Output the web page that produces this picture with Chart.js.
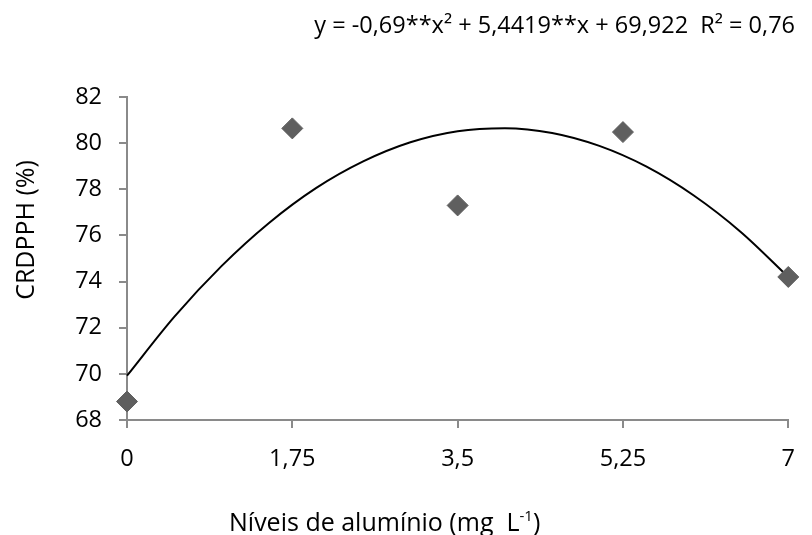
<!DOCTYPE html>
<html>
<head>
<meta charset="utf-8">
<script src="https://cdn.jsdelivr.net/npm/chart.js@4/dist/chart.umd.min.js"></script>
<style>
  body { margin: 0; background: #fff; }
  #wrap { width: 812px; height: 535px; }
</style>
</head>
<body>
<div id="wrap"><canvas id="chart" width="812" height="535"></canvas></div>
<script>
// aluminium levels and measured values
var levels = [0, 1.75, 3.5, 5.25, 7];
var crdpph = [68.8, 80.64, 77.3, 80.48, 74.2];

// fitted curve
var curveX = [0, 0.5, 1, 1.5, 2, 2.5, 3, 3.5, 4, 4.5, 5, 5.5, 6, 6.5, 7];
var curveY = [69.92, 72.47, 74.67, 76.53, 78.05, 79.21, 80.04, 80.52, 80.65, 80.44, 79.88, 78.98, 77.73, 76.14, 74.2];

var xTicks = [0, 1.75, 3.5, 5.25, 7];
var xTickLabels = ["0", "1,75", "3,5", "5,25", "7"];

var equation = "y = -0,69**x\u00b2 + 5,4419**x + 69,922  R\u00b2 = 0,76";
var yTitle = "CRDPPH (%)";
var xTitle = "N\u00edveis de alum\u00ednio (mg  L";
var xTitleSup = "-1";

var FONT = "'Open Sans', sans-serif";
var axisGray = "#8a8a8a";

function main(){
    "use strict";
    var points = levels.map(function(v, i){ return {x: v, y: crdpph[i]}; });
    var curve = curveX.map(function(v, i){ return {x: v, y: curveY[i]}; });

    // titles and equation
    var texts = {
        id: "texts",
        afterDraw: function(chart){
            var ctx = chart.ctx;
            ctx.save();
            ctx.fillStyle = "#000";
            ctx.font = "23.5px " + FONT;
            ctx.textAlign = "right";
            ctx.textBaseline = "alphabetic";
            ctx.fillText(equation, 795, 33);

            ctx.save();
            ctx.translate(27, 230);
            ctx.rotate(-Math.PI / 2);
            ctx.font = "25px " + FONT;
            ctx.textAlign = "center";
            ctx.textBaseline = "middle";
            ctx.fillText(yTitle, 0, 0);
            ctx.restore();

            ctx.textAlign = "left";
            ctx.font = "25px " + FONT;
            var x0 = 229;
            ctx.fillText(xTitle, x0, 531);
            var w = ctx.measureText(xTitle).width;
            ctx.font = "15px " + FONT;
            ctx.fillText(xTitleSup, x0 + w, 521);
            var w2 = ctx.measureText(xTitleSup).width;
            ctx.font = "25px " + FONT;
            ctx.fillText(")", x0 + w + w2, 531);
            ctx.restore();
        }
    };

    new Chart("chart", {
        type: "scatter",
        data: {
            datasets: [{
                data: points,
                pointStyle: "rectRot",
                pointRadius: 10.5,
                pointHoverRadius: 10.5,
                backgroundColor: "#5f5f5f",
                borderColor: "#5f5f5f",
                borderWidth: 1,
                clip: false
            }, {
                data: curve,
                showLine: true,
                pointRadius: 0,
                borderColor: "#000",
                borderWidth: 2,
                tension: 0.4,
                cubicInterpolationMode: "monotone",
                clip: false
            }]
        },
        options: {
            responsive: false,
            animation: false,
            layout: { padding: { left: 0, right: 10, top: 97, bottom: 0 } },
            scales: {
                x: {
                    type: "linear",
                    min: 0,
                    max: 7,
                    afterBuildTicks: function(s){ s.ticks = xTicks.map(function(v){ return {value: v}; }); },
                    afterFit: function(s){ s.height = 115; },
                    border: { color: axisGray, width: 2 },
                    grid: { drawOnChartArea: false, drawTicks: true, tickLength: 8, color: axisGray, lineWidth: 2 },
                    ticks: {
                        padding: 17,
                        color: "#000",
                        font: { family: FONT, size: 23.5 },
                        maxRotation: 0,
                        autoSkip: false,
                        callback: function(value, index){ return xTickLabels[index]; }
                    }
                },
                y: {
                    min: 68,
                    max: 82,
                    afterFit: function(s){ s.width = 127; },
                    border: { color: axisGray, width: 2 },
                    grid: { drawOnChartArea: false, drawTicks: true, tickLength: 8, color: axisGray, lineWidth: 2 },
                    ticks: {
                        stepSize: 2,
                        padding: 17,
                        color: "#000",
                        font: { family: FONT, size: 23.5 }
                    }
                }
            },
            plugins: {
                legend: { display: false },
                tooltip: { enabled: false }
            }
        },
        plugins: [texts]
    });
}

document.fonts.load("23px 'Open Sans'").then(main, main);
</script>
</body>
</html>
